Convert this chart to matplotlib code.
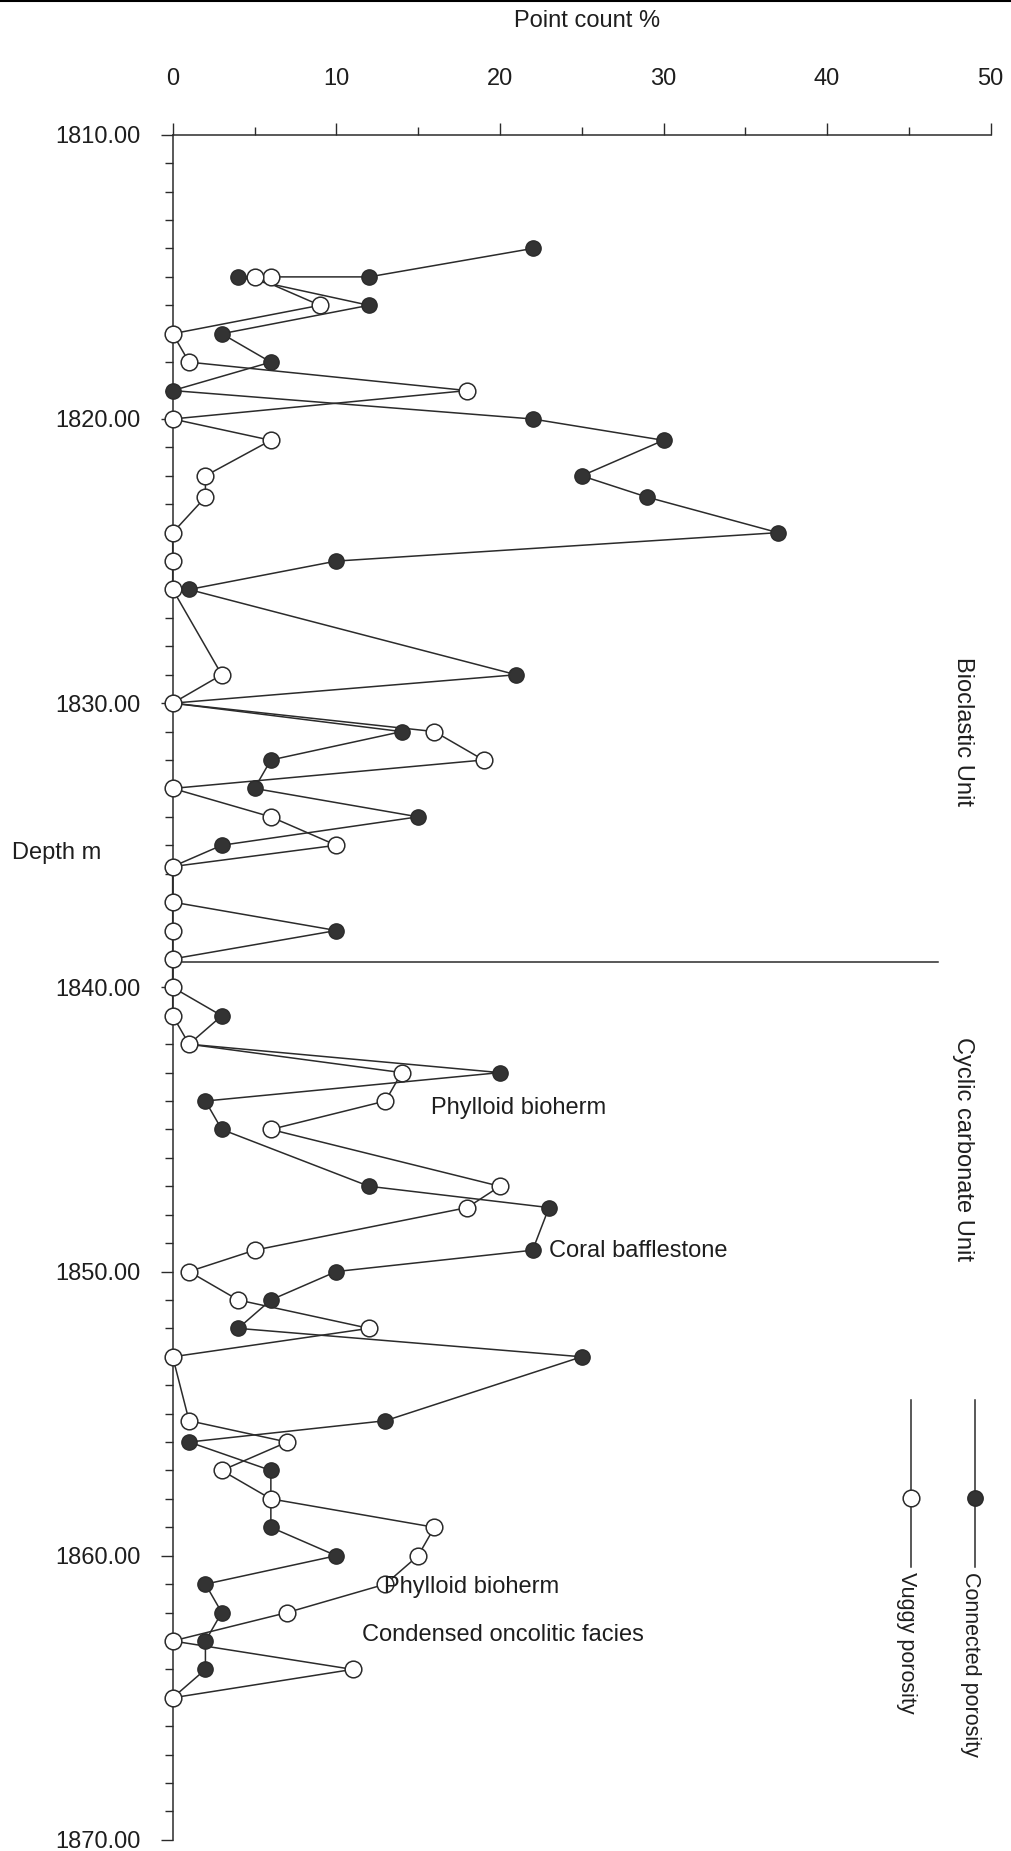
import matplotlib
matplotlib.use("Agg")
import matplotlib.pyplot as plt
from matplotlib.lines import Line2D
from matplotlib.ticker import FixedLocator, FormatStrFormatter

plt.rcParams['font.family'] = ['Liberation Sans', 'DejaVu Sans']

# ---------------- data ----------------
connected_depth = [1814, 1815, 1815, 1816, 1817, 1818, 1819, 1820, 1820.75, 1822,
                   1822.75, 1824, 1825, 1826, 1829, 1830, 1831, 1832, 1833, 1834,
                   1835, 1835.75, 1837, 1838, 1839, 1840, 1841, 1842, 1843, 1844,
                   1845, 1847, 1847.75, 1849.25, 1850, 1851, 1852, 1853, 1855.25, 1856,
                   1857, 1858, 1859, 1860, 1861, 1862, 1863, 1864, 1865]
connected_pct = [22, 12, 4, 12, 3, 6, 0, 22, 30, 25,
                 29, 37, 10, 1, 21, 0, 14, 6, 5, 15,
                 3, 0, 0, 10, 0, 0, 3, 1, 20, 2,
                 3, 12, 23, 22, 10, 6, 4, 25, 13, 1,
                 6, 6, 6, 10, 2, 3, 2, 2, 0]

vuggy_depth = [1815, 1815, 1816, 1817, 1818, 1819, 1820, 1820.75, 1822, 1822.75,
               1824, 1825, 1826, 1829, 1830, 1831, 1832, 1833, 1834, 1835,
               1835.75, 1837, 1838, 1839, 1840, 1841, 1842, 1843, 1844, 1845,
               1847, 1847.75, 1849.25, 1850, 1851, 1852, 1853, 1855.25, 1856, 1857,
               1858, 1859, 1860, 1861, 1862, 1863, 1864, 1865]
vuggy_pct = [6, 5, 9, 0, 1, 18, 0, 6, 2, 2,
             0, 0, 0, 3, 0, 16, 19, 0, 6, 10,
             0, 0, 0, 0, 0, 0, 1, 14, 13, 6,
             20, 18, 5, 1, 4, 12, 0, 1, 7, 3,
             6, 16, 15, 13, 7, 0, 11, 0]

x_major_ticks = [0, 10, 20, 30, 40, 50]
x_minor_ticks = [5, 15, 25, 35, 45]
depth_major_ticks = [1810, 1820, 1830, 1840, 1850, 1860, 1870]
depth_minor_ticks = list(range(1811, 1870))

unit_boundary_depth = 1839.1
unit_boundary_extent = [0, 46.8]
unit_labels = ["Bioclastic Unit", "Cyclic carbonate Unit"]
unit_label_depths = [1831.0, 1845.7]
unit_label_x = 48.3

facies_labels = ["Phylloid bioherm", "Coral bafflestone", "Phylloid bioherm",
                 "Condensed oncolitic facies"]
facies_x = [15.8, 23.0, 12.9, 11.6]
facies_depth = [1844.25, 1849.27, 1861.1, 1862.8]

legend_labels = ["Connected porosity", "Vuggy porosity"]

# ---------------- styling ----------------
INK = '#2b2b2b'
TXT = '#1e1e1e'
FS = 17

W, H = 1011, 1851
fig = plt.figure(figsize=(W / 100, H / 100), dpi=100)
fig.patch.set_facecolor('white')

ax_left, ax_right = 172.7, 990.7
ax_top, ax_bot = 134.8, 1839.9
ax = fig.add_axes([ax_left / W, 1 - ax_bot / H, (ax_right - ax_left) / W, (ax_bot - ax_top) / H])
ax.set_xlim(0, 50)
ax.set_ylim(1870, 1810)
ax.patch.set_alpha(0)

for s in ['right', 'bottom']:
    ax.spines[s].set_visible(False)
for s in ['top', 'left']:
    ax.spines[s].set_color(INK)
    ax.spines[s].set_linewidth(1.1)

ax.xaxis.tick_top()
ax.xaxis.set_major_locator(FixedLocator(x_major_ticks))
ax.xaxis.set_minor_locator(FixedLocator(x_minor_ticks))
ax.yaxis.set_major_locator(FixedLocator(depth_major_ticks))
ax.yaxis.set_minor_locator(FixedLocator(depth_minor_ticks))
ax.yaxis.set_major_formatter(FormatStrFormatter('%.2f'))
ax.tick_params(axis='x', which='major', direction='out', length=8.5, width=1.0,
               color=INK, pad=24, labelsize=FS, labelcolor=TXT)
ax.tick_params(axis='x', which='minor', direction='out', length=6, width=1.0, color=INK)
ax.tick_params(axis='y', which='major', direction='out', length=9, width=1.0,
               color=INK, pad=14, labelsize=FS, labelcolor=TXT)
ax.tick_params(axis='y', which='minor', direction='out', length=6, width=1.0, color=INK)

# series lines
ax.plot(connected_pct, connected_depth, '-', color=INK, lw=1.1, zorder=2, clip_on=False)
ax.plot(vuggy_pct, vuggy_depth, '-', color=INK, lw=1.1, zorder=2, clip_on=False)
# markers
ax.plot(connected_pct, connected_depth, 'o', ls='none', ms=11, mfc='#333333',
        mec=INK, mew=1.0, zorder=3, clip_on=False)
ax.plot(vuggy_pct, vuggy_depth, 'o', ls='none', ms=12, mfc='white',
        mec=INK, mew=1.1, zorder=4, clip_on=False)

# unit boundary
ax.plot(unit_boundary_extent, [unit_boundary_depth] * 2, '-', color=INK, lw=1.1,
        zorder=1, clip_on=False)

for lab, d in zip(unit_labels, unit_label_depths):
    ax.text(unit_label_x, d, lab, rotation=-90, ha='center', va='center',
            fontsize=FS, color=TXT)

for lab, x, d in zip(facies_labels, facies_x, facies_depth):
    ax.text(x, d, lab, ha='left', va='center', fontsize=FS, color=TXT, zorder=5)

fig.text(587 / W, 1 - 21 / H, "Point count %", ha='center', va='center',
         fontsize=FS, color=TXT)
fig.text(12 / W, 1 - 853 / H, "Depth m", ha='left', va='center',
         fontsize=FS, color=TXT)

# top border line
fig.add_artist(Line2D([0, 1], [1 - 1.0 / H, 1 - 1.0 / H], transform=fig.transFigure,
                      color='black', lw=1.5))

# legend (rotated, drawn manually)
leg_x = [975 / W, 911 / W]
leg_fill = ['#333333', 'white']
leg_ms = [11, 12]
y_top, y_bot, y_mk = 1 - 1400 / H, 1 - 1567 / H, 1 - 1498 / H
for lx, lab, fc, ms in zip(leg_x, legend_labels, leg_fill, leg_ms):
    fig.add_artist(Line2D([lx, lx], [y_top, y_bot], transform=fig.transFigure,
                          color=INK, lw=1.1))
    fig.add_artist(Line2D([lx], [y_mk], transform=fig.transFigure, marker='o',
                          ms=ms, mfc=fc, mec=INK, mew=1.1, ls='none'))
    fig.text(lx - 5 / W, y_bot - 5 / H, lab, rotation=-90, ha='center', va='top',
             fontsize=15.5, color=TXT)

fig.savefig('out.png', dpi=100, facecolor='white')
